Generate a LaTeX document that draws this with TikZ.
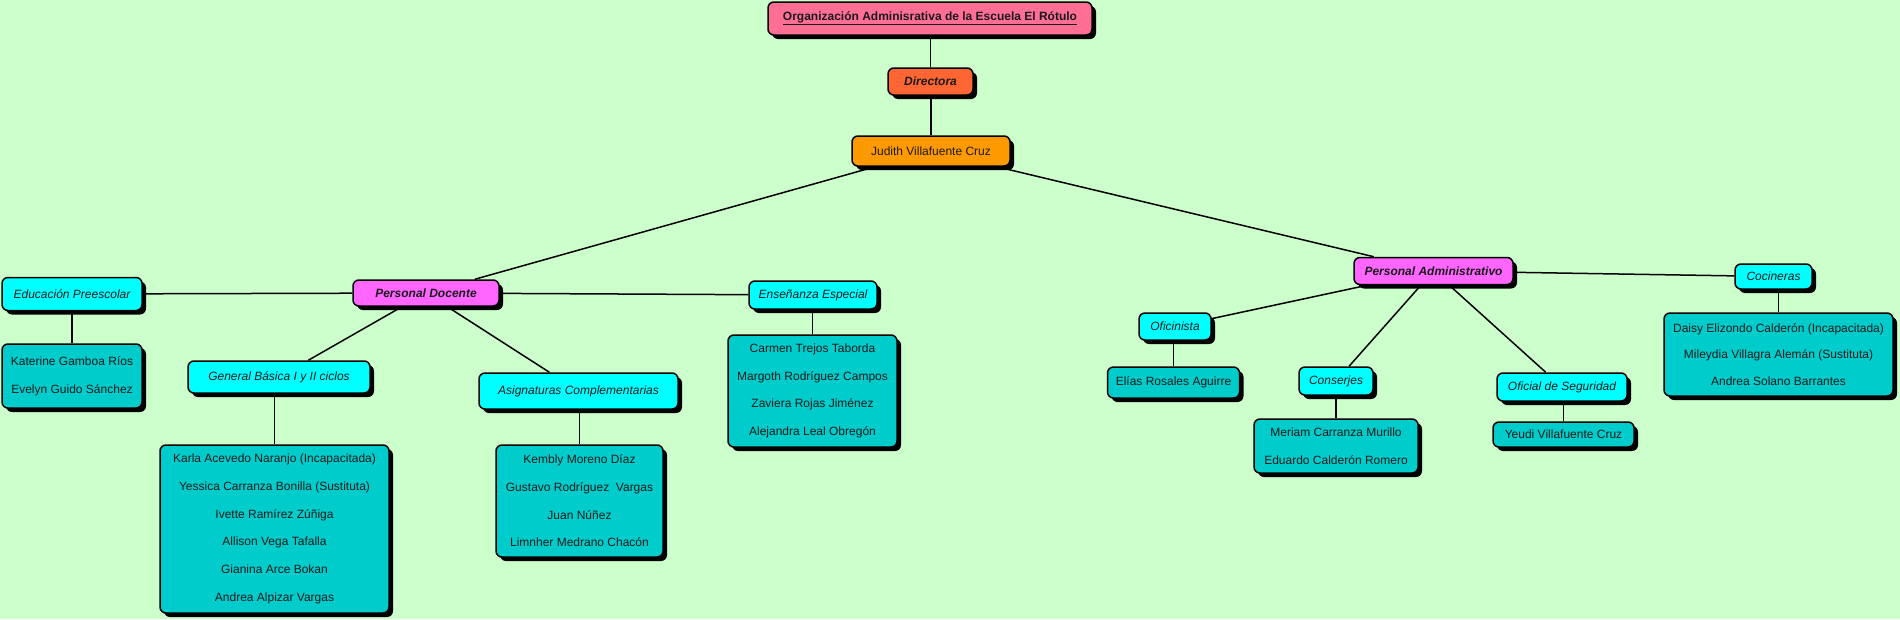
\documentclass[tikz,border=0pt]{standalone}
\usepackage{fontspec}
\setmainfont{Liberation Sans}
\usetikzlibrary{shadows}
\definecolor{bg}{HTML}{CCFFCC}
\definecolor{titlec}{HTML}{FF6F95}
\definecolor{dirc}{HTML}{FF6633}
\definecolor{judc}{HTML}{FF9900}
\definecolor{magc}{HTML}{FF66FF}
\definecolor{cyanc}{HTML}{00FFFF}
\definecolor{tealc}{HTML}{00CCCC}
\definecolor{txt}{HTML}{1A1A1A}
\tikzset{
  box/.style={rectangle, rounded corners=6pt, draw=black, line width=1.5pt,
    inner sep=0pt, text=txt, align=center,
    font=\fontsize{12}{27.7}\selectfont,
    drop shadow={shadow xshift=4pt, shadow yshift=-4pt, opacity=1, fill=black}},
  titlebox/.style={box, fill=titlec, font=\fontsize{12}{14}\selectfont\bfseries},
  dirbox/.style={box, fill=dirc, font=\fontsize{12}{14}\selectfont\bfseries\itshape},
  judbox/.style={box, fill=judc, font=\fontsize{12}{14}\selectfont},
  magbox/.style={box, fill=magc, font=\fontsize{12}{14}\selectfont\bfseries\itshape},
  catbox/.style={box, fill=cyanc, font=\fontsize{12}{14}\selectfont\itshape},
  namebox/.style={box, fill=tealc},
  conn/.style={draw=black, line width=1.5pt}
}
\begin{document}
\begin{tikzpicture}[x=1pt,y=-1pt]
\useasboundingbox (0,0) rectangle (1900,619);
\fill[bg] (0,0) rectangle (1900,619);

\node[titlebox, minimum width=324pt, minimum height=33pt] (title) at (930,18.5) {\underline{Organización Adminisrativa de la Escuela El Rótulo}};
\node[dirbox, minimum width=85pt, minimum height=27pt] (dir) at (930.5,81.5) {Directora};
\node[judbox, minimum width=158pt, minimum height=30pt] (jud) at (931,151) {Judith Villafuente Cruz};

\node[magbox, minimum width=146pt, minimum height=26pt] (pd) at (426,293) {Personal Docente};
\node[magbox, minimum width=159pt, minimum height=27pt] (pa) at (1433.5,271) {Personal Administrativo};

\node[catbox, minimum width=140pt, minimum height=33pt] (edu) at (72,294) {Educación Preescolar};
\node[namebox, minimum width=140pt, minimum height=64pt] (kat) at (72,376) {Katerine Gamboa Ríos\\Evelyn Guido Sánchez};

\node[catbox, minimum width=182pt, minimum height=32pt] (gb) at (279,377) {General Básica I y II ciclos};
\node[namebox, minimum width=229pt, minimum height=168pt] (kar) at (274.5,529) {Karla Acevedo Naranjo (Incapacitada)\\Yessica Carranza Bonilla (Sustituta)\\Ivette Ramírez Zúñiga\\Allison Vega Tafalla\\Gianina Arce Bokan\\Andrea Alpizar Vargas};

\node[catbox, minimum width=199pt, minimum height=36pt] (asig) at (578.5,391) {Asignaturas Complementarias};
\node[namebox, minimum width=167pt, minimum height=112pt] (kem) at (579.5,501) {Kembly Moreno Díaz\\Gustavo Rodríguez\ \ Vargas\\Juan Núñez\\Limnher Medrano Chacón};

\node[catbox, minimum width=128pt, minimum height=28pt] (ens) at (813,295) {Enseñanza Especial};
\node[namebox, minimum width=169pt, minimum height=112pt] (car) at (812.5,391) {Carmen Trejos Taborda\\Margoth Rodríguez Campos\\Zaviera Rojas Jiménez\\Alejandra Leal Obregón};

\node[catbox, minimum width=72pt, minimum height=27pt] (ofi) at (1175,326.5) {Oficinista};
\node[namebox, minimum width=132pt, minimum height=31pt] (eli) at (1173.5,382.5) {Elías Rosales Aguirre};

\node[catbox, minimum width=74pt, minimum height=28pt] (con) at (1336,381) {Conserjes};
\node[namebox, minimum width=164pt, minimum height=54pt] (mer) at (1336,446) {Meriam Carranza Murillo\\Eduardo Calderón Romero};

\node[catbox, minimum width=130pt, minimum height=28pt] (seg) at (1562,387) {Oficial de Seguridad};
\node[namebox, minimum width=141pt, minimum height=25pt] (yeu) at (1563.5,434.5) {Yeudi Villafuente Cruz};

\node[catbox, minimum width=77pt, minimum height=25pt] (coc) at (1773.5,276.5) {Cocineras};
\node[namebox, minimum width=229pt, minimum height=83pt, font=\fontsize{12}{26.5}\selectfont] (dai) at (1778.5,354.5) {Daisy Elizondo Calderón (Incapacitada)\\Mileydia Villagra Alemán (Sustituta)\\Andrea Solano Barrantes};

% connectors
\draw[conn] (dir.north |- title.south) -- (dir.north);
\draw[conn] (jud.north |- dir.south) -- (jud.north);
\draw[conn] (jud) -- (pd);
\draw[conn] (jud) -- (pa);
\draw[conn] (pd) -- (edu);
\draw[conn] (pd) -- (ens);
\draw[conn] (pd) -- (gb);
\draw[conn] (pd) -- (asig);
\draw[conn] (kat.north |- edu.south) -- (kat.north);
\draw[conn] (kar.north |- gb.south) -- (kar.north);
\draw[conn] (kem.north |- asig.south) -- (kem.north);
\draw[conn] (car.north |- ens.south) -- (car.north);
\draw[conn] (pa) -- (ofi);
\draw[conn] (pa) -- (con);
\draw[conn] (pa) -- (seg);
\draw[conn] (pa) -- (coc);
\draw[conn] (eli.north |- ofi.south) -- (eli.north);
\draw[conn] (mer.north |- con.south) -- (mer.north);
\draw[conn] (yeu.north |- seg.south) -- (yeu.north);
\draw[conn] (dai.north |- coc.south) -- (dai.north);
\end{tikzpicture}
\end{document}
